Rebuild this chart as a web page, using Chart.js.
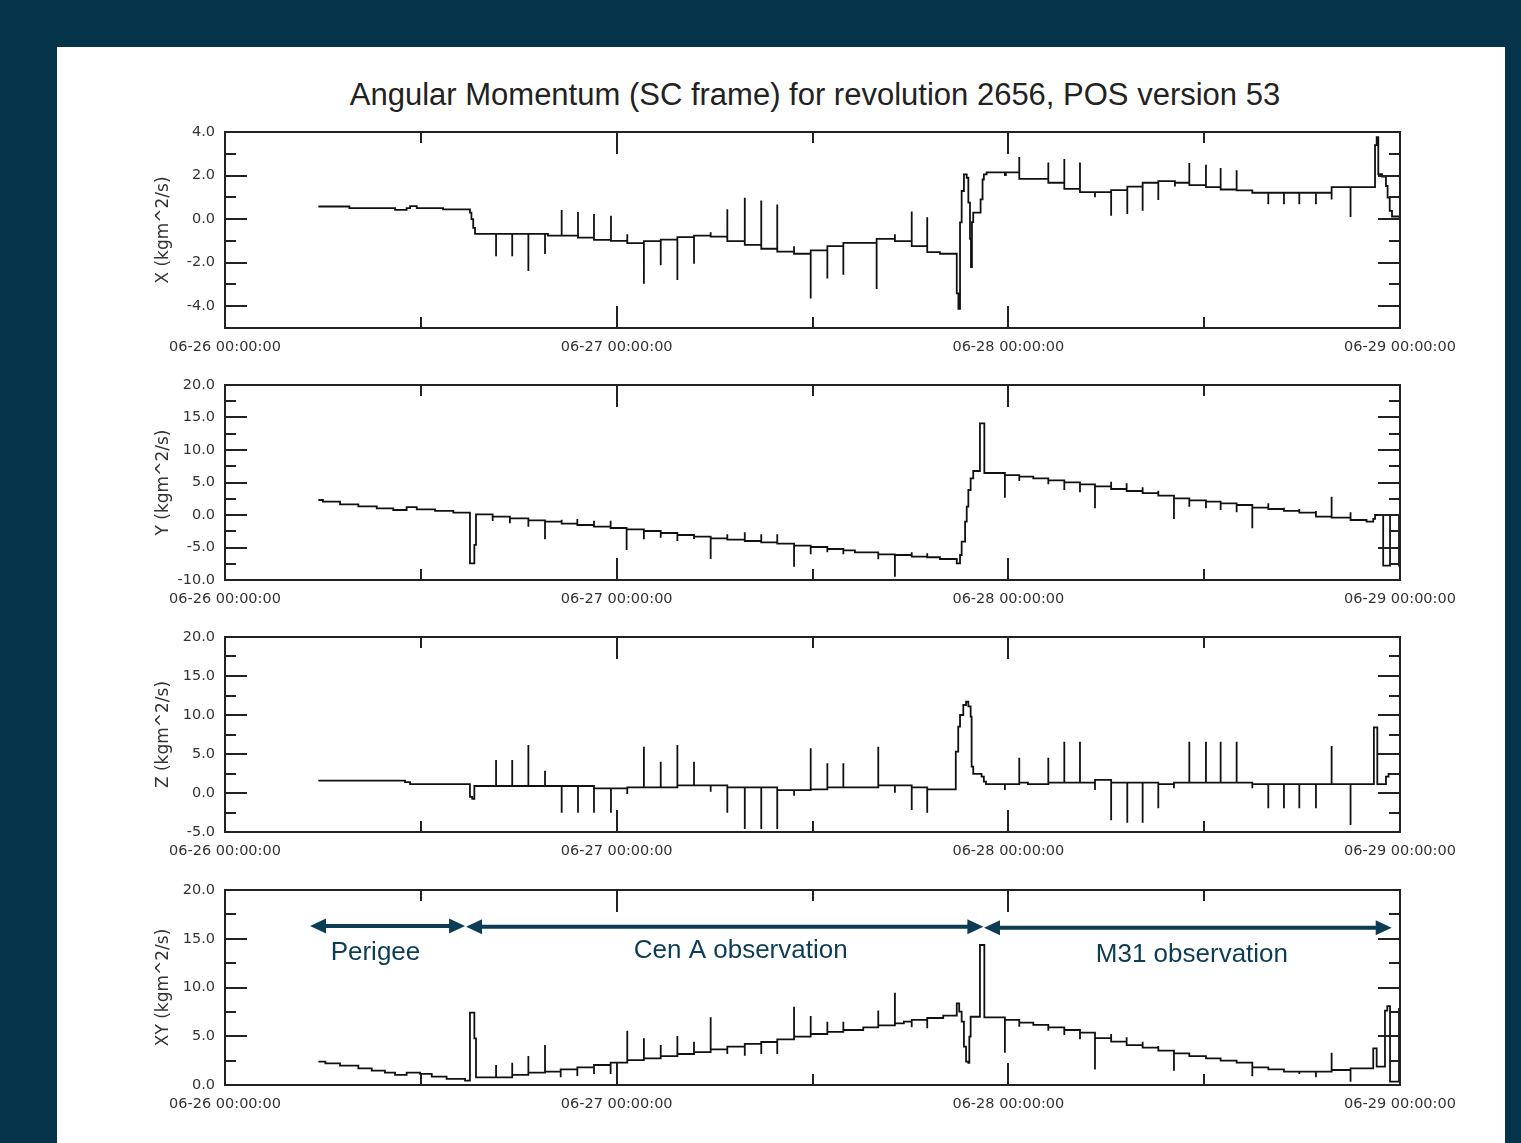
<!DOCTYPE html>
<html><head><meta charset="utf-8">
<script src="https://cdn.jsdelivr.net/npm/chart.js@4.4.1/dist/chart.umd.min.js"></script>
<style>
html,body{margin:0;padding:0;background:#05344a;width:1521px;height:1143px;overflow:hidden;}
#sheet{position:absolute;left:57px;top:47px;width:1448px;height:1096px;background:#fff;}
#title{position:absolute;left:115px;width:1400px;top:77px;line-height:34px;text-align:center;font:31px "Liberation Sans",Arial,sans-serif;color:#222;white-space:nowrap;}
canvas{position:absolute;left:147px;}
</style></head><body>
<div id="sheet"></div>
<div id="title">Angular Momentum (SC frame) for revolution 2656, POS version 53</div>
<canvas id="c0" width="1374" height="246" style="top:122px"></canvas>
<canvas id="c1" width="1374" height="245" style="top:375px"></canvas>
<canvas id="c2" width="1374" height="245" style="top:627px"></canvas>
<canvas id="c3" width="1374" height="245" style="top:880px"></canvas>
<script>
// ---- x axis: hours since 06-26 00:00:00 ----
const DAY_LABELS = ['06-26 00:00:00','06-27 00:00:00','06-28 00:00:00','06-29 00:00:00'];

// ---- X component (kgm^2/s) ----
const X_T = [5.72,7.62,10.42,11.13,11.34,11.75,13.36,15.01,15.10,15.21,15.32,
16.61,16.61,17.60,17.60,18.59,18.59,19.61,19.61,19.79,20.63,20.63,21.63,21.63,22.61,22.61,23.65,23.65,
24.65,24.65,25.67,25.67,26.70,26.70,27.72,27.72,28.74,28.74,29.76,29.76,30.78,30.78,31.85,31.85,
32.86,32.86,33.84,33.84,34.87,34.87,35.89,35.89,36.91,36.91,37.89,37.89,39.93,39.93,41.05,41.05,
42.08,42.08,43.03,43.03,43.81,44.84,44.94,45.04,45.14,45.28,45.45,45.55,45.65,45.71,45.77,45.85,
46.30,46.42,46.50,46.67,47.79,47.85,48.67,48.67,50.45,50.45,51.43,51.43,52.39,52.39,53.31,53.31,
54.30,54.30,55.29,55.29,56.23,56.23,57.19,57.19,58.21,58.21,59.09,59.09,60.11,60.11,61.01,61.01,
61.99,61.99,62.95,63.93,63.93,64.89,64.89,65.83,65.83,66.85,66.85,67.81,67.81,68.97,68.97,
70.47,70.57,70.67,70.90,71.14,71.24,71.37,71.51,72.00];
const X_V = [0.58,0.50,0.42,0.50,0.60,0.50,0.45,0.30,0.00,-0.40,-0.68,
-1.70,-0.68,-1.70,-0.68,-2.38,-0.68,-1.60,-0.68,-0.76,0.42,-0.76,0.33,-0.85,0.24,-0.95,0.15,-1.00,
-0.70,-1.10,-2.97,-1.01,-2.12,-0.94,-2.80,-0.83,-2.05,-0.76,-0.60,-0.80,0.45,-1.01,0.98,-1.18,
0.86,-1.36,0.67,-1.49,-1.25,-1.59,-3.64,-1.44,-2.73,-1.24,-2.55,-1.09,-3.21,-0.91,-0.70,-1.01,
0.35,-1.24,0.09,-1.52,-1.59,-3.41,-4.12,-0.15,1.29,2.05,1.90,0.76,-0.91,-2.20,-0.14,0.30,
0.91,1.82,2.05,2.15,2.02,2.15,2.85,1.85,2.60,1.67,2.76,1.39,2.60,1.24,1.00,1.24,
0.15,1.33,0.23,1.49,0.38,1.67,0.88,1.74,1.50,1.67,2.58,1.56,2.50,1.47,2.35,1.36,
2.24,1.32,1.21,0.68,1.21,0.68,1.21,0.68,1.21,0.68,1.21,0.90,1.47,0.10,1.47,
3.40,3.76,2.06,1.95,1.52,0.99,0.38,0.12,0.10];

// ---- Y component (kgm^2/s) ----
const Y_T = [5.72,6.00,7.05,8.17,9.30,10.31,11.13,11.75,12.87,13.99,15.01,15.28,15.38,
16.40,16.40,17.46,17.46,18.59,18.59,19.61,19.61,20.63,20.63,21.59,21.59,22.61,22.61,23.63,23.63,
24.61,24.61,25.67,25.67,26.70,26.70,27.72,27.72,28.74,28.74,29.76,29.76,30.78,30.78,31.85,31.85,
32.86,32.86,33.84,33.84,34.87,34.87,35.89,35.89,36.91,36.91,37.89,37.89,38.60,40.03,40.03,
41.05,41.05,42.08,42.08,43.03,43.03,43.81,44.84,45.04,45.14,45.35,45.45,45.55,45.69,45.85,46.26,46.53,
47.79,47.79,48.67,48.67,49.53,50.45,50.45,51.43,51.43,52.39,52.39,53.31,53.31,54.30,54.30,
55.25,55.25,56.23,56.23,57.19,57.19,58.15,58.15,59.09,59.09,60.11,60.11,61.01,61.01,61.99,61.99,
62.95,62.95,63.93,63.93,64.89,64.89,65.83,65.83,66.85,66.85,67.81,67.81,68.97,68.97,69.95,70.36,70.47,
70.97,71.39,71.94,72.00];
const Y_V = [2.31,2.05,1.64,1.33,1.03,0.77,1.20,0.87,0.62,0.36,-7.43,-4.60,0.10,
-0.92,-0.26,-1.28,-0.51,-1.80,-0.82,-3.74,-1.03,-0.72,-1.33,-0.62,-1.54,-0.87,-1.80,-0.87,-2.00,
-5.38,-2.20,-3.74,-2.46,-3.49,-2.77,-4.00,-3.08,-3.69,-3.33,-6.77,-3.59,-2.97,-3.79,-2.67,-4.00,
-2.97,-4.21,-2.97,-4.41,-7.95,-4.72,-6.05,-4.92,-5.74,-5.23,-6.05,-5.44,-5.74,-6.82,-6.05,
-9.49,-6.15,-5.74,-6.41,-5.90,-6.50,-6.77,-7.44,-6.15,-4.10,-1.03,1.28,3.85,5.64,6.77,14.10,6.46,
2.67,6.15,5.23,5.90,5.64,4.72,5.33,3.85,5.03,3.49,4.72,1.03,4.41,5.13,4.00,
4.87,3.69,4.26,3.38,3.74,2.97,-0.62,2.56,1.28,2.26,1.03,2.05,0.77,1.79,0.41,1.54,
-2.05,1.13,1.79,0.92,1.13,0.62,0.92,0.36,0.62,-0.26,2.82,-0.41,0.41,-0.77,-1.03,-0.60,0.00,
-7.80,0.00,-7.80,0.00];

// ---- Z component (kgm^2/s) ----
const Z_T = [5.72,11.03,11.34,15.01,15.15,15.28,
16.61,16.61,17.60,17.60,18.59,18.59,19.61,19.61,20.63,20.63,21.63,21.63,22.61,22.61,23.65,23.65,
24.65,24.65,25.67,25.67,26.70,26.70,27.72,27.72,28.74,28.74,29.76,29.76,30.78,30.78,31.85,31.85,
32.86,32.86,33.84,33.84,34.87,34.87,35.89,35.89,36.91,36.91,37.89,37.89,40.03,40.03,41.05,41.05,
42.08,42.08,43.03,43.03,44.78,44.93,45.04,45.24,45.41,45.55,45.69,45.75,45.85,46.36,46.50,46.63,
47.79,47.79,48.67,48.67,49.20,50.45,50.45,51.43,51.43,52.39,52.39,53.31,53.31,54.30,54.30,
55.29,55.29,56.23,56.23,57.19,57.19,58.15,58.15,59.09,59.09,60.11,60.11,61.01,61.01,61.99,61.99,
62.95,62.95,63.93,63.93,64.89,64.89,65.83,65.83,66.85,66.85,67.81,67.81,68.97,68.97,
70.40,70.61,71.14,71.30,72.00];
const Z_V = [1.58,1.40,1.15,-0.50,-0.75,0.90,
4.23,0.90,4.23,0.90,6.15,0.90,2.86,0.90,-2.52,0.90,-2.52,0.90,-2.52,0.60,-2.52,0.60,
-0.13,0.73,5.94,0.73,4.02,0.73,6.15,0.98,4.02,0.98,0.17,0.98,-2.52,0.73,-4.62,0.73,
-4.62,0.73,-4.62,0.38,-0.35,0.38,5.73,0.47,3.81,0.73,3.81,0.73,5.94,0.98,0.04,0.98,
-2.18,0.73,-2.52,0.47,5.30,8.50,10.00,11.28,11.70,11.10,9.79,3.38,2.44,2.09,1.45,1.15,
0.38,1.15,4.53,1.32,1.15,4.53,1.32,6.58,1.32,6.58,1.32,0.40,1.67,-3.50,1.32,
-3.80,1.32,-3.80,1.32,-1.97,1.15,0.60,1.32,6.58,1.32,6.58,1.32,6.58,1.32,6.58,1.32,
0.60,1.15,-1.97,1.15,-1.97,1.15,-1.97,1.15,-1.97,1.15,6.03,1.15,-4.10,1.15,
8.42,1.15,2.09,2.44,2.44];

// ---- XY magnitude (kgm^2/s) ----
const XY_T = [5.72,6.15,7.05,8.17,8.99,9.80,10.42,11.13,11.95,12.67,13.58,14.71,15.01,15.28,15.38,
16.61,16.61,17.60,17.60,18.59,18.59,19.61,19.61,20.57,20.57,21.59,21.59,22.61,22.61,23.63,23.63,
24.65,24.65,25.67,25.67,26.70,26.70,27.72,27.72,28.74,28.74,29.76,29.76,30.78,30.78,31.85,31.85,
32.86,32.86,33.84,33.84,34.87,34.87,35.89,35.89,36.91,36.91,37.89,37.89,39.11,40.03,40.03,
41.05,41.05,41.60,42.08,42.08,43.03,43.03,44.01,44.84,44.99,45.14,45.28,45.41,45.55,45.61,45.69,46.26,46.53,
47.79,47.79,48.67,48.67,49.53,50.45,50.45,51.43,51.43,52.39,52.39,53.31,53.31,54.30,54.30,
55.25,55.25,56.23,56.23,57.19,57.19,58.15,58.15,59.09,60.11,61.01,61.99,62.95,62.95,63.93,64.89,
65.83,65.83,66.85,66.85,67.81,67.81,68.97,68.97,70.36,70.57,71.08,71.22,71.39,71.39,71.94,72.00];
const XY_V = [2.39,2.22,1.98,1.71,1.47,1.26,1.03,1.26,1.15,0.85,0.62,0.44,7.42,4.79,0.79,
2.05,0.79,2.28,1.03,2.97,1.26,4.10,1.37,0.79,1.60,0.92,1.81,1.13,2.05,1.13,2.29,
5.57,2.56,4.79,2.74,4.10,2.97,5.03,3.18,4.44,3.38,6.94,3.66,3.18,3.93,3.01,4.21,
3.18,4.41,3.18,4.68,8.03,4.96,7.08,5.23,6.50,5.44,6.50,5.64,5.92,7.63,6.12,
9.47,6.33,6.50,5.92,6.67,5.81,6.87,7.11,8.38,7.52,6.50,3.93,2.39,2.28,4.96,7.00,14.36,6.94,
3.31,6.67,5.98,6.39,6.16,5.57,5.92,5.13,5.64,4.68,5.37,1.60,4.80,5.23,4.45,
4.89,4.10,4.44,3.83,4.00,3.52,1.47,3.25,2.97,2.74,2.50,2.29,0.90,1.81,1.60,1.37,
1.13,1.37,0.79,1.37,3.31,1.54,0.34,1.71,3.76,1.88,7.63,8.10,7.90,0.34,7.80,7.80];

// ---- observation phases drawn on the XY panel ----
const PHASE_NAMES = ['Perigee','Cen A observation','M31 observation'];
const PHASE_START = [5.21, 14.77, 46.51];
const PHASE_END   = [14.71, 46.47, 71.49];
const PHASE_ARROW_V = [16.31, 16.24, 16.13];
const PHASE_TEXT_T = [9.22, 31.60, 59.25];
const PHASE_TEXT_V = [12.82, 13.06, 12.58];

const INK = '#222';
const NOTE = '#0c3d55';

function isMult(v, m){ const q = v/m; return Math.abs(q - Math.round(q)) < 1e-6; }

const frame = {
  id:'frame',
  afterDatasetsDraw(chart){
    const {ctx, chartArea:a, scales:{x, y}} = chart;
    const major = chart.options.plugins.frame.major;
    ctx.save();
    ctx.strokeStyle = INK; ctx.lineWidth = 2;
    ctx.beginPath();
    y.ticks.forEach(t => {
      const p = Math.round(y.getPixelForValue(t.value));
      const L = isMult(t.value, major) ? 22 : 11;
      ctx.moveTo(a.left, p); ctx.lineTo(a.left + L, p);
      ctx.moveTo(a.right, p); ctx.lineTo(a.right - L, p);
    });
    x.ticks.forEach(t => {
      const p = Math.round(x.getPixelForValue(t.value));
      const L = isMult(t.value, 24) ? 22 : 11;
      ctx.moveTo(p, a.top); ctx.lineTo(p, a.top + L);
      ctx.moveTo(p, a.bottom); ctx.lineTo(p, a.bottom - L);
    });
    ctx.stroke();
    ctx.strokeRect(a.left, a.top, a.right - a.left, a.bottom - a.top);
    ctx.restore();
  }
};

const phases = {
  id:'phases',
  afterDatasetsDraw(chart){
    const {ctx, scales:{x, y}} = chart;
    ctx.save();
    ctx.strokeStyle = NOTE; ctx.fillStyle = NOTE; ctx.lineWidth = 4;
    const head = (tipX, py, dir) => {
      ctx.beginPath();
      ctx.moveTo(tipX, py);
      ctx.lineTo(tipX - dir*16, py - 7.5);
      ctx.lineTo(tipX - dir*16, py + 7.5);
      ctx.closePath(); ctx.fill();
    };
    PHASE_NAMES.forEach((name, i) => {
      const x0 = x.getPixelForValue(PHASE_START[i]);
      const x1 = x.getPixelForValue(PHASE_END[i]);
      const py = y.getPixelForValue(PHASE_ARROW_V[i]);
      ctx.beginPath(); ctx.moveTo(x0 + 12, py); ctx.lineTo(x1 - 12, py); ctx.stroke();
      head(x0, py, -1); head(x1, py, 1);
      ctx.font = '26px "Liberation Sans", Arial, sans-serif';
      ctx.textAlign = 'center'; ctx.textBaseline = 'alphabetic';
      ctx.fillText(name, x.getPixelForValue(PHASE_TEXT_T[i]), y.getPixelForValue(PHASE_TEXT_V[i]));
    });
    ctx.restore();
  }
};

const PANELS = [
  {id:'c0', label:'X (kgm^2/s)',  min:-5,  max:4,  step:1,   major:2, T:X_T,  V:X_V},
  {id:'c1', label:'Y (kgm^2/s)',  min:-10, max:20, step:2.5, major:5, T:Y_T,  V:Y_V},
  {id:'c2', label:'Z (kgm^2/s)',  min:-5,  max:20, step:2.5, major:5, T:Z_T,  V:Z_V},
  {id:'c3', label:'XY (kgm^2/s)', min:0,   max:20, step:2.5, major:5, T:XY_T, V:XY_V, notes:true}
];

const tickFont = {family:'"DejaVu Sans", sans-serif', size:14.5};

PANELS.forEach(cfg => {
  const pts = cfg.T.map((t, i) => ({x:t, y:cfg.V[i]}));
  new Chart(document.getElementById(cfg.id), {
    type:'line',
    data:{datasets:[{data:pts, borderColor:'#111', borderWidth:1.8, pointRadius:0,
      stepped:'before', fill:false, tension:0}]},
    options:{
      responsive:false, animation:false, devicePixelRatio:1,
      layout:{padding:{top:10, right:121, left:0, bottom:0}},
      plugins:{legend:{display:false}, tooltip:{enabled:false}, frame:{major:cfg.major}},
      scales:{
        x:{type:'linear', min:0, max:72,
          afterFit(s){ s.height = 40; s.paddingLeft = 0; s.paddingRight = 0; },
          grid:{display:false, drawTicks:false}, border:{display:false},
          ticks:{stepSize:12, autoSkip:false, maxRotation:0, minRotation:0, padding:11,
            color:'#333', font:tickFont,
            callback:v => isMult(v, 24) ? DAY_LABELS[Math.round(v/24)] : ''}},
        y:{type:'linear', min:cfg.min, max:cfg.max,
          afterFit(s){ s.width = 78; s.paddingTop = 0; s.paddingBottom = 0; },
          grid:{display:false, drawTicks:false}, border:{display:false},
          ticks:{stepSize:cfg.step, autoSkip:false, padding:10, color:'#333', font:tickFont,
            callback:v => isMult(v, cfg.major) ? Number(v).toFixed(1) : ''},
          title:{display:true, text:cfg.label, color:'#333',
            font:{family:'"DejaVu Sans", sans-serif', size:17}, padding:{top:6, bottom:0}}}
      }
    },
    plugins: cfg.notes ? [frame, phases] : [frame]
  });
});
</script>
</body></html>
